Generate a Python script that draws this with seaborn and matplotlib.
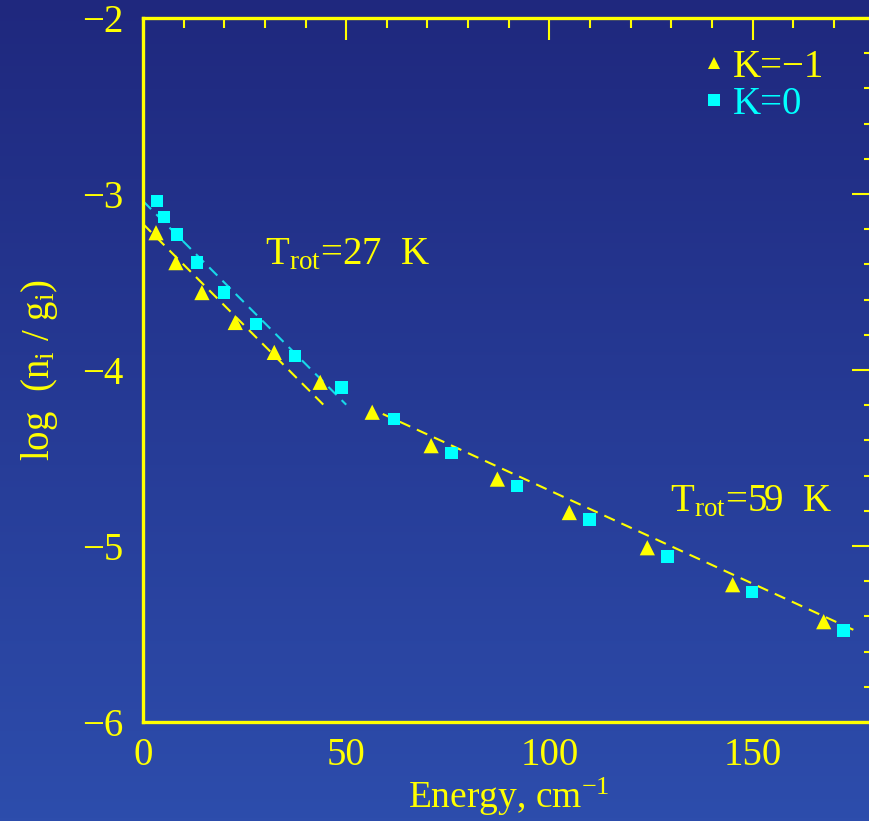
import numpy as np
import pandas as pd
import matplotlib
matplotlib.use("Agg")
import matplotlib.pyplot as plt
from matplotlib.lines import Line2D
import seaborn as sns

# Rotational level populations, K = -1 ladder
energy_km1 = [3.2, 8.1, 14.5, 22.7, 32.3, 43.6, 56.4, 70.9, 87.2, 104.9, 124.1, 145.1, 167.5]
logn_km1 = [-3.22, -3.39, -3.56, -3.73, -3.90, -4.07, -4.24, -4.43, -4.62, -4.81, -5.01, -5.22, -5.43]

# Rotational level populations, K = 0 ladder
energy_k0 = [3.4, 5.2, 8.4, 13.3, 20.0, 27.8, 37.4, 48.8, 61.8, 75.9, 92.1, 109.9, 129.1, 149.8, 172.4]
logn_k0 = [-3.04, -3.13, -3.23, -3.39, -3.56, -3.74, -3.92, -4.10, -4.28, -4.47, -4.66, -4.85, -5.06, -5.26, -5.48]

# Rotation-diagram fits: temperature, intercept, energy range, colour
fit_temps = [27, 27, 59]
fit_intercepts = [-3.04, -3.17, -3.625]
fit_ranges = [(0.0, 50.0), (0.0, 45.0), (59.0, 176.0)]
fit_colors = ["#19d8e8", "#ffff00", "#ffff00"]

# hc/k in K cm, log10(e)
C2 = 1.4388
LOG_E = np.log10(np.e)

YELLOW = "#ffff00"
CYAN = "#00ffff"
FS = 28

sns.set_theme(style="white")
plt.rcParams["font.family"] = ["Liberation Serif", "DejaVu Serif"]
plt.rcParams["mathtext.fontset"] = "custom"
plt.rcParams["mathtext.rm"] = "Liberation Serif"
plt.rcParams["mathtext.it"] = "Liberation Serif"

fig = plt.figure(figsize=(8.7, 8.21), dpi=100)

# vertical blue gradient behind everything
bg = fig.add_axes([0, 0, 1, 1], zorder=-10)
grad = np.linspace(0, 1, 256)[:, None]
top = np.array([31, 40, 126]) / 255
bot = np.array([45, 77, 172]) / 255
img = top[None, None, :] * (1 - grad[:, :, None]) + bot[None, None, :] * grad[:, :, None]
bg.imshow(img, aspect="auto", extent=[0, 1, 0, 1], origin="upper")
bg.set_axis_off()

W, H = 870, 821
ax = fig.add_axes([143 / W, (H - 722) / H, (874.5 - 143) / W, (722 - 18) / H])
ax.set_facecolor("none")

# fit lines
for T, a, (x0, x1), c in zip(fit_temps, fit_intercepts, fit_ranges, fit_colors):
    xs = np.array([x0, x1])
    ys = a - LOG_E * C2 / T * xs
    df = pd.DataFrame({"E": xs, "y": ys})
    sns.lineplot(data=df, x="E", y="y", ax=ax, color=c, lw=1.5,
                 dashes=False, linestyle=(0, (5.5, 3.5)), zorder=2)

df1 = pd.DataFrame({"E": energy_km1, "y": logn_km1})
df0 = pd.DataFrame({"E": energy_k0, "y": logn_k0})
sns.scatterplot(data=df1, x="E", y="y", ax=ax, marker="^", s=120, color=YELLOW,
                edgecolor="none", linewidth=0, zorder=3)
sns.scatterplot(data=df0, x="E", y="y", ax=ax, marker="s", s=80, color=CYAN,
                edgecolor="none", linewidth=0, zorder=3)

ax.set_xlim(0, 180)
ax.set_ylim(-6, -2)
ax.set_xticks([0, 50, 100, 150])
ax.set_yticks([-6, -5, -4, -3, -2])
ax.set_xticks(np.arange(0, 181, 10), minor=True)
ax.set_yticks(np.arange(-6, -1.99, 0.2), minor=True)

for s in ax.spines.values():
    s.set_color(YELLOW)
    s.set_linewidth(2.4)
ax.tick_params(which="both", direction="in", colors=YELLOW, top=True, right=True,
               labelsize=FS, width=1.5)
ax.tick_params(which="major", length=16)
ax.tick_params(which="minor", length=7)
ax.tick_params(axis="y", which="major", pad=14)
ax.tick_params(axis="x", which="major", pad=11)

ax.set_xlabel("Energy, cm$^{-1}$", color=YELLOW, fontsize=27, labelpad=1)
ax.set_ylabel("log  (n$_{\\rm i}$ / g$_{\\rm i}$)", color=YELLOW, fontsize=FS, labelpad=16)

ax.text(30, -3.40, "T$_{\\rm rot}$=27  K", color=YELLOW, fontsize=FS, va="baseline")
ax.text(129.8, -4.80, "T$_{\\rm rot}$=59  K", color=YELLOW, fontsize=FS, va="baseline")

handles = [
    Line2D([], [], marker="^", ls="none", color=YELLOW, markersize=9, markeredgewidth=0),
    Line2D([], [], marker="s", ls="none", color=CYAN, markersize=8, markeredgewidth=0),
]
leg = ax.legend(handles, ["K=−1", "K=0"], loc="upper left",
                bbox_to_anchor=((700 - 143) / 731.5, (722 - 49) / 704),
                frameon=False, fontsize=FS, handlelength=0.7, handletextpad=0.15,
                labelspacing=0.0, borderpad=0, borderaxespad=0)
for t, c in zip(leg.get_texts(), [YELLOW, CYAN]):
    t.set_color(c)

fig.savefig("out.png", dpi=100)
